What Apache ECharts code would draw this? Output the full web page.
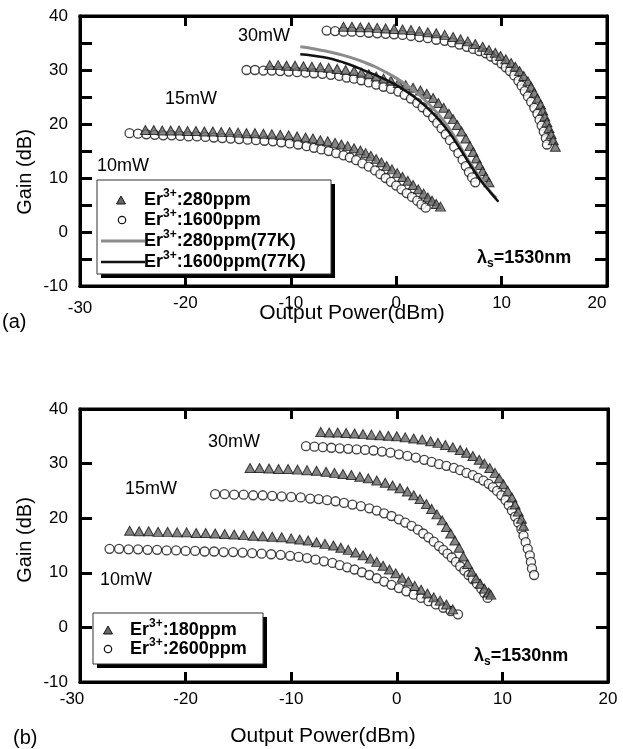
<!DOCTYPE html>
<html>
<head>
<meta charset="utf-8">
<script src="https://cdn.jsdelivr.net/npm/echarts@6/dist/echarts.min.js"></script>
<style>
  html, body { margin: 0; padding: 0; background: #fff; }
  #chart { width: 623px; height: 749px; }
</style>
</head>
<body>
<div id="chart"></div>
<script>
// ---------- Panel (a): gain vs output power, Er3+ 280 ppm / 1600 ppm ----------
// [output power (dBm), gain (dB)]
const tri10a = [[-23.8,18.9],[-23.0,18.9],[-22.2,18.8],[-21.4,18.8],[-20.6,18.8],[-19.8,18.7],[-19.0,18.7],[-18.2,18.6],[-17.4,18.6],[-16.6,18.5],[-15.8,18.5],[-15.0,18.4],[-14.2,18.3],[-13.4,18.3],[-12.6,18.2],[-11.8,18.1],[-11.0,18.0],[-10.2,17.9],[-9.4,17.7],[-8.6,17.5],[-7.9,17.3],[-7.2,17.0],[-6.5,16.8],[-5.8,16.5],[-5.2,16.2],[-4.6,15.9],[-4.0,15.5],[-3.4,15.1],[-2.9,14.6],[-2.4,14.1],[-1.9,13.5],[-1.4,12.9],[-0.9,12.2],[-0.4,11.6],[0.1,10.9],[0.6,10.2],[1.1,9.5],[1.6,8.7],[2.1,7.9],[2.6,7.1],[3.0,6.4],[3.4,5.8],[3.8,5.2],[4.2,4.7]];
const circ10a = [[-25.3,18.3],[-24.5,18.2],[-23.7,18.1],[-22.9,18.0],[-22.1,17.9],[-21.3,17.9],[-20.5,17.8],[-19.7,17.7],[-18.9,17.7],[-18.1,17.6],[-17.3,17.5],[-16.5,17.4],[-15.7,17.3],[-14.9,17.2],[-14.1,17.1],[-13.3,17.0],[-12.5,16.9],[-11.7,16.8],[-10.9,16.6],[-10.1,16.4],[-9.3,16.2],[-8.5,15.9],[-7.8,15.6],[-7.1,15.3],[-6.4,15.0],[-5.7,14.6],[-5.0,14.2],[-4.4,13.8],[-3.8,13.3],[-3.2,12.7],[-2.6,12.1],[-2.0,11.4],[-1.5,10.7],[-1.0,10.0],[-0.5,9.3],[0.0,8.6],[0.5,7.9],[1.0,7.2],[1.5,6.5],[2.0,5.8],[2.4,5.1],[2.8,4.5]];
const tri15a = [[-12.0,30.9],[-11.2,30.9],[-10.4,30.8],[-9.6,30.8],[-8.8,30.7],[-8.0,30.6],[-7.2,30.5],[-6.4,30.4],[-5.6,30.2],[-4.8,30.0],[-4.0,29.8],[-3.3,29.5],[-2.6,29.2],[-1.9,28.8],[-1.2,28.4],[-0.5,28.0],[0.2,27.6],[0.9,27.2],[1.6,26.7],[2.3,26.2],[2.9,25.6],[3.5,24.8],[4.0,23.9],[4.5,23.0],[5.0,21.9],[5.4,20.9],[5.8,19.8],[6.2,18.6],[6.6,17.3],[7.0,15.9],[7.3,14.8],[7.6,13.6],[7.9,12.4],[8.2,11.3],[8.5,10.2],[8.8,9.2]];
const circ15a = [[-14.2,30.0],[-13.4,30.0],[-12.6,29.9],[-11.8,29.9],[-11.0,29.8],[-10.2,29.7],[-9.4,29.6],[-8.6,29.5],[-7.8,29.4],[-7.0,29.3],[-6.2,29.1],[-5.4,28.9],[-4.7,28.6],[-4.0,28.4],[-3.3,28.1],[-2.6,27.7],[-1.9,27.3],[-1.2,26.9],[-0.5,26.5],[0.2,26.0],[0.8,25.4],[1.4,24.7],[2.0,23.9],[2.5,23.1],[3.0,22.2],[3.5,21.2],[3.9,20.2],[4.3,19.2],[4.7,18.1],[5.1,17.0],[5.5,15.8],[5.9,14.6],[6.3,13.4],[6.6,12.2],[6.9,11.1],[7.2,10.1],[7.5,9.2]];
const tri30a = [[-5.0,38.0],[-4.2,38.0],[-3.4,37.9],[-2.6,37.9],[-1.8,37.8],[-1.0,37.7],[-0.2,37.6],[0.6,37.5],[1.4,37.4],[2.2,37.2],[3.0,37.0],[3.8,36.8],[4.6,36.5],[5.4,36.1],[6.1,35.7],[6.8,35.3],[7.5,34.8],[8.2,34.3],[8.8,33.7],[9.4,33.2],[9.9,32.6],[10.4,32.0],[10.9,31.3],[11.3,30.6],[11.7,29.8],[12.1,28.9],[12.5,27.9],[12.8,26.9],[13.1,25.8],[13.4,24.7],[13.7,23.6],[13.9,22.5],[14.1,21.4],[14.3,20.3],[14.5,19.2],[14.7,18.1],[14.9,17.0],[15.1,15.8]];
const circ30a = [[-6.6,37.3],[-5.8,37.2],[-5.0,37.1],[-4.2,37.1],[-3.4,37.0],[-2.6,36.9],[-1.8,36.8],[-1.0,36.7],[-0.2,36.6],[0.6,36.5],[1.4,36.3],[2.2,36.1],[3.0,35.9],[3.8,35.6],[4.6,35.4],[5.3,35.1],[6.0,34.7],[6.7,34.3],[7.3,33.9],[7.9,33.5],[8.5,33.1],[9.0,32.5],[9.5,31.9],[10.0,31.2],[10.4,30.5],[10.8,29.8],[11.2,29.0],[11.6,28.0],[11.9,27.1],[12.2,26.1],[12.5,25.1],[12.8,24.1],[13.1,23.0],[13.4,21.9],[13.6,20.8],[13.8,19.7],[14.0,18.6],[14.2,17.4],[14.3,16.2]];
// 77 K measurements, 30 mW pump
const line280K = [[-9.1,34.3],[-8,34.0],[-7,33.6],[-6,33.2],[-5,32.7],[-4,32.1],[-3,31.4],[-2,30.6],[-1,29.6],[0,28.5],[1,27.2],[2,25.7],[3,23.9],[4,21.8],[5,19.3],[6,16.1],[7,12.8],[8,10.0],[9,7.3],[9.5,6.3]];
const line1600K = [[-9.1,32.9],[-8,32.7],[-7,32.4],[-6,32.0],[-5,31.4],[-4,30.7],[-3,29.9],[-2,29.1],[-1,28.2],[0,27.2],[1,26.0],[2,24.6],[3,22.9],[4,20.9],[5,18.5],[6,15.6],[7,12.5],[8,9.6],[9,7.2],[9.7,5.6]];

// ---------- Panel (b): Er3+ 180 ppm / 2600 ppm ----------
const tri10b = [[-25.3,17.7],[-24.4,17.6],[-23.5,17.6],[-22.6,17.5],[-21.7,17.5],[-20.8,17.4],[-19.9,17.4],[-19.0,17.3],[-18.1,17.3],[-17.2,17.2],[-16.3,17.1],[-15.4,17.0],[-14.5,16.9],[-13.6,16.8],[-12.7,16.7],[-11.8,16.6],[-10.9,16.5],[-10.0,16.3],[-9.2,16.1],[-8.4,15.9],[-7.6,15.6],[-6.8,15.3],[-6.0,15.0],[-5.3,14.6],[-4.6,14.2],[-3.9,13.7],[-3.2,13.2],[-2.5,12.6],[-1.9,12.0],[-1.3,11.3],[-0.7,10.6],[-0.1,9.9],[0.5,9.1],[1.1,8.4],[1.7,7.6],[2.3,6.9],[2.9,6.2],[3.5,5.5],[4.1,4.9],[4.7,4.2],[5.3,3.3]];
const circ10b = [[-27.2,14.4],[-26.3,14.4],[-25.4,14.3],[-24.5,14.3],[-23.6,14.2],[-22.7,14.2],[-21.8,14.1],[-20.9,14.1],[-20.0,14.0],[-19.1,14.0],[-18.2,13.9],[-17.3,13.9],[-16.4,13.8],[-15.5,13.8],[-14.6,13.7],[-13.7,13.6],[-12.8,13.5],[-11.9,13.4],[-11.0,13.3],[-10.1,13.1],[-9.3,12.9],[-8.5,12.7],[-7.7,12.4],[-6.9,12.1],[-6.1,11.8],[-5.4,11.4],[-4.7,11.0],[-4.0,10.6],[-3.3,10.1],[-2.6,9.6],[-1.9,9.0],[-1.2,8.4],[-0.5,7.8],[0.2,7.2],[0.9,6.6],[1.6,6.0],[2.3,5.4],[3.0,4.8],[3.7,4.2],[4.4,3.6],[5.1,3.0],[5.8,2.4]];
const tri15b = [[-13.9,29.2],[-13.0,29.2],[-12.1,29.1],[-11.2,29.0],[-10.3,29.0],[-9.4,28.9],[-8.5,28.8],[-7.6,28.7],[-6.7,28.5],[-5.9,28.3],[-5.1,28.1],[-4.3,27.9],[-3.5,27.6],[-2.7,27.3],[-1.9,26.9],[-1.1,26.5],[-0.4,26.0],[0.3,25.5],[1.0,24.9],[1.6,24.2],[2.2,23.5],[2.8,22.6],[3.3,21.7],[3.8,20.7],[4.3,19.6],[4.7,18.4],[5.1,17.2],[5.5,15.9],[5.9,14.6],[6.3,13.0],[6.7,11.6],[7.1,10.2],[7.5,9.0],[7.9,8.0],[8.3,7.1],[8.7,6.4],[8.9,6.0]];
const circ15b = [[-17.2,24.4],[-16.3,24.4],[-15.4,24.3],[-14.5,24.3],[-13.6,24.2],[-12.7,24.2],[-11.8,24.1],[-10.9,24.0],[-10.0,23.9],[-9.1,23.8],[-8.2,23.6],[-7.4,23.5],[-6.6,23.3],[-5.8,23.1],[-5.0,22.8],[-4.2,22.5],[-3.4,22.2],[-2.6,21.8],[-1.9,21.4],[-1.2,20.9],[-0.5,20.4],[0.2,19.8],[0.8,19.2],[1.4,18.6],[2.0,17.9],[2.5,17.2],[3.0,16.5],[3.5,15.7],[4.0,14.9],[4.4,14.2],[4.8,13.5],[5.2,12.8],[5.6,12.0],[6.0,11.2],[6.4,10.4],[6.8,9.6],[7.2,8.8],[7.6,8.0],[8.0,7.1],[8.3,6.3],[8.6,5.4]];
const tri30b = [[-7.2,35.8],[-6.4,35.7],[-5.6,35.7],[-4.8,35.6],[-4.0,35.5],[-3.2,35.4],[-2.4,35.3],[-1.6,35.2],[-0.8,35.1],[0.0,35.0],[0.8,34.8],[1.6,34.6],[2.4,34.4],[3.2,34.1],[3.9,33.8],[4.6,33.4],[5.3,33.0],[6.0,32.5],[6.6,32.0],[7.2,31.4],[7.8,30.7],[8.3,30.0],[8.8,29.2],[9.3,28.3],[9.7,27.3],[10.1,26.2],[10.5,25.0],[10.9,23.8],[11.2,22.5],[11.5,21.2],[11.8,19.9],[12.0,18.6]];
const circ30b = [[-8.6,33.2],[-7.8,33.1],[-7.0,33.0],[-6.2,32.9],[-5.4,32.8],[-4.6,32.7],[-3.8,32.6],[-3.0,32.5],[-2.2,32.4],[-1.4,32.2],[-0.6,32.0],[0.2,31.7],[1.0,31.4],[1.8,31.1],[2.6,30.7],[3.3,30.3],[4.0,29.9],[4.7,29.6],[5.4,29.2],[6.0,28.8],[6.6,28.3],[7.2,27.9],[7.7,27.4],[8.2,26.9],[8.7,26.3],[9.1,25.7],[9.5,25.0],[9.9,24.2],[10.3,23.3],[10.6,22.4],[10.9,21.4],[11.2,20.3],[11.5,19.2],[11.8,18.0],[12.0,16.8],[12.2,15.6],[12.4,14.4],[12.6,13.2],[12.7,12.0],[12.8,10.8],[13.0,9.6]];

// Axis ranges and tick labels
const xTicks = [-30, -20, -10, 0, 10, 20];
const yTicks = [-10, 0, 10, 20, 30, 40];
const pumpLabels = ['30mW', '15mW', '10mW'];

const F = '"Liberation Sans", Arial, Helvetica, sans-serif';
const BLACK = '#000';

const chart = echarts.init(document.getElementById('chart'), null, { renderer: 'canvas' });

function xAxes(gridIndex, edgeRich, edgeFmt) {
  const common = {
    type: 'value', gridIndex, min: xTicks[0], max: xTicks[xTicks.length - 1], interval: 10,
    axisLine: { show: true, onZero: false, lineStyle: { color: BLACK, width: 3 } },
    axisTick: { show: true, inside: true, length: 10, lineStyle: { color: BLACK, width: 3 } },
    splitLine: { show: false }
  };
  return [
    Object.assign({}, common, {
      position: 'bottom',
      axisLabel: { show: true, color: BLACK, fontFamily: F, fontSize: 17, margin: 9,
        formatter: edgeFmt, rich: edgeRich }
    }),
    Object.assign({}, common, { position: 'top', axisLabel: { show: false } })
  ];
}
function yAxes(gridIndex, tickStep) {
  const common = {
    type: 'value', gridIndex, min: yTicks[0], max: yTicks[yTicks.length - 1], interval: tickStep,
    axisLine: { show: true, onZero: false, lineStyle: { color: BLACK, width: 3 } },
    axisTick: { show: true, inside: true, length: 12, lineStyle: { color: BLACK, width: 3 } },
    splitLine: { show: false }
  };
  return [
    Object.assign({}, common, {
      position: 'left',
      axisLabel: { show: true, color: BLACK, fontFamily: F, fontSize: 17, margin: 12,
        formatter: v => (yTicks.indexOf(v) >= 0 ? String(v) : '') }
    }),
    Object.assign({}, common, { position: 'right', axisLabel: { show: false } })
  ];
}

const triStyle = { color: '#666666', borderColor: '#141414', borderWidth: 1 };
const circStyle = { color: '#ffffff', borderColor: '#111', borderWidth: 1.3 };

function scatter(name, xi, yi, kind, data) {
  return {
    name, type: 'scatter', xAxisIndex: xi, yAxisIndex: yi,
    symbol: kind === 'tri' ? 'triangle' : 'circle',
    symbolSize: kind === 'tri' ? [10, 9] : 9,
    itemStyle: kind === 'tri' ? triStyle : circStyle,
    data, silent: true
  };
}
function curve(name, color, width, data) {
  return {
    name, type: 'line', xAxisIndex: 0, yAxisIndex: 0, data,
    symbol: 'none', showSymbol: false, smooth: 0.4,
    lineStyle: { color, width }, itemStyle: { color }, silent: true
  };
}

const names = {
  a280: 'Er3+:280ppm', a1600: 'Er3+:1600ppm',
  a280K: 'Er3+:280ppm(77K)', a1600K: 'Er3+:1600ppm(77K)',
  b180: 'Er3+:180ppm', b2600: 'Er3+:2600ppm'
};

// ----- legend and annotation drawing helpers -----
const supRich = {
  b: { fontFamily: F, fontWeight: 'bold', fontSize: 18, fill: BLACK, lineHeight: 24 },
  sup: { fontFamily: F, fontWeight: 'bold', fontSize: 12, fill: BLACK, verticalAlign: 'top', lineHeight: 12 },
  sub: { fontFamily: F, fontWeight: 'bold', fontSize: 12, fill: BLACK, verticalAlign: 'bottom', lineHeight: 12 }
};
function erLabel(name) {
  const p = name.split('3+');
  return '{b|' + p[0] + '}{sup|3+}{b|' + p[1] + '}';
}
function legendText(x, y, name) {
  return { type: 'text', x, y, z: 20, style: { text: erLabel(name), rich: supRich, verticalAlign: 'middle' } };
}
function legendBox(x, y, w, h) {
  return [
    { type: 'rect', z: 18, shape: { x: x + 4, y: y + 4, width: w, height: h }, style: { fill: BLACK } },
    { type: 'rect', z: 19, shape: { x, y, width: w, height: h }, style: { fill: '#fff', stroke: '#333', lineWidth: 1 } }
  ];
}
function legendTri(cx, cy) {
  return { type: 'polygon', z: 20, shape: { points: [[cx - 4.5, cy + 4], [cx + 4.5, cy + 4], [cx, cy - 4]] },
    style: { fill: triStyle.color, stroke: triStyle.borderColor, lineWidth: 1 } };
}
function legendCirc(cx, cy) {
  return { type: 'circle', z: 20, shape: { cx, cy, r: 3.7 }, style: { fill: '#fff', stroke: '#111', lineWidth: 1.2 } };
}
function legendLine(x1, x2, y, color, w) {
  return { type: 'line', z: 20, shape: { x1, y1: y, x2, y2: y }, style: { stroke: color, lineWidth: w } };
}
function plainText(t, x, y, size, extra) {
  return { type: 'text', x, y, style: Object.assign({ text: t, font: 'normal ' + size + 'px ' + F, fill: BLACK, verticalAlign: 'middle' }, extra || {}) };
}

const option = {
  animation: false,
  backgroundColor: '#fff',
  grid: [
    { left: 80, top: 16, width: 527, height: 270, show: true, borderColor: BLACK, borderWidth: 3, backgroundColor: 'transparent' },
    { left: 80, top: 409, width: 528, height: 273, show: true, borderColor: BLACK, borderWidth: 3, backgroundColor: 'transparent' }
  ],
  xAxis: [].concat(
    xAxes(0, {
      lo: { fontFamily: F, fontSize: 17, color: BLACK, padding: [5, 0, 0, 0] },
      rt: { fontFamily: F, fontSize: 17, color: BLACK, padding: [0, 20, 0, 0] }
    }, v => (v === -30 ? '{lo|-30}' : v === 20 ? '{rt|20}' : String(v))),
    xAxes(1, {
      lf: { fontFamily: F, fontSize: 17, color: BLACK, padding: [0, 16, 0, 0] }
    }, v => (v === -30 ? '{lf|-30}' : String(v)))
  ),
  yAxis: [].concat(yAxes(0, 5), yAxes(1, 10)),
  series: [
    scatter(names.a1600, 0, 0, 'circ', circ10a.concat(circ15a, circ30a)),
    scatter(names.a280, 0, 0, 'tri', tri10a.concat(tri15a, tri30a)),
    curve(names.a280K, '#8c8c8c', 3, line280K),
    curve(names.a1600K, '#111111', 2.5, line1600K),
    scatter(names.b2600, 2, 2, 'circ', circ10b.concat(circ15b, circ30b)),
    scatter(names.b180, 2, 2, 'tri', tri10b.concat(tri15b, tri30b))
  ],
  graphic: [].concat(
    // legend, panel (a)
    legendBox(97, 180, 234, 94),
    [
      legendTri(121, 200), legendText(144, 200, names.a280),
      legendCirc(122, 220), legendText(144, 220, names.a1600),
      legendLine(101, 145, 241, '#8c8c8c', 3), legendText(144, 241, names.a280K),
      legendLine(101, 145, 262, '#111111', 2.5), legendText(144, 262, names.a1600K)
    ],
    // legend, panel (b)
    legendBox(93, 613, 170, 51),
    [
      legendTri(108, 630), legendText(130, 630, names.b180),
      legendCirc(108, 649), legendText(130, 649, names.b2600)
    ],
    [
      // pump power annotations
      plainText(pumpLabels[0], 238, 36, 18), plainText(pumpLabels[1], 165, 99, 18), plainText(pumpLabels[2], 97, 166, 18),
      plainText(pumpLabels[0], 208, 442, 18), plainText(pumpLabels[1], 125, 489, 18), plainText(pumpLabels[2], 100, 580, 18),
      // signal wavelength
      { type: 'text', x: 477, y: 258, style: { text: '{b|λ}{sub|s}{b|=1530nm}', rich: supRich, verticalAlign: 'middle' } },
      { type: 'text', x: 474, y: 656, style: { text: '{b|λ}{sub|s}{b|=1530nm}', rich: supRich, verticalAlign: 'middle' } },
      // axis titles
      Object.assign(plainText('Gain (dB)', 25, 172, 20, { align: 'center' }), { rotation: Math.PI / 2 }),
      Object.assign(plainText('Gain (dB)', 25, 540, 20, { align: 'center' }), { rotation: Math.PI / 2 }),
      plainText('Output Power(dBm)', 352, 313, 21, { align: 'center' }),
      plainText('Output Power(dBm)', 323, 736, 21, { align: 'center' }),
      // panel tags
      plainText('(a)', 2, 322, 20), plainText('(b)', 13, 738, 20)
    ]
  )
};

chart.setOption(option);
</script>
</body>
</html>
